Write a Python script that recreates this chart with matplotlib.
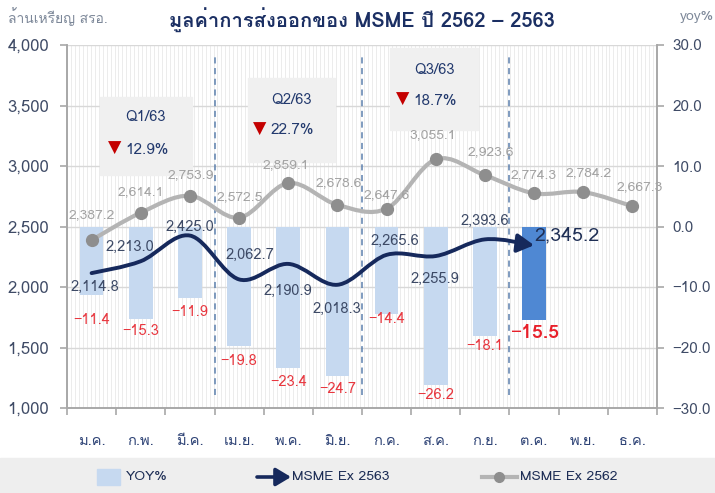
import numpy as np
import matplotlib
matplotlib.use("Agg")
import matplotlib.pyplot as plt
from matplotlib import font_manager
from matplotlib.path import Path
from matplotlib.patches import PathPatch, FancyArrowPatch, Rectangle
from matplotlib.ft2font import FT2Font

# ---------------- data ----------------
months = ["ม.ค.", "ก.พ.", "มี.ค.", "เม.ย.", "พ.ค.", "มิ.ย.",
          "ก.ค.", "ส.ค.", "ก.ย.", "ต.ค.", "พ.ย.", "ธ.ค."]
yoy = [-11.4, -15.3, -11.9, -19.8, -23.4, -24.7, -14.4, -26.2, -18.1, -15.5]
msme_2563 = [2114.8, 2213.0, 2425.0, 2062.7, 2190.9, 2018.3, 2265.6, 2255.9, 2393.6, 2345.2]
msme_2562 = [2387.2, 2614.1, 2753.9, 2572.5, 2859.1, 2678.6, 2647.6, 3055.1, 2923.6,
             2774.3, 2784.2, 2667.3]
quarters = ["Q1/63", "Q2/63", "Q3/63"]
quarter_change = [12.9, 22.7, 18.7]

# ---------------- fonts ----------------
def find_thai_font():
    seen = set()
    for f in font_manager.fontManager.ttflist:
        if f.name in seen:
            continue
        try:
            cm = FT2Font(f.fname).get_charmap()
            if 0x0E01 in cm and 0x0E21 in cm:
                return f.name
        except Exception:
            pass
        seen.add(f.name)
    return None

thai = find_thai_font()
fams = ([thai] if thai else []) + ["Noto Sans", "DejaVu Sans"]
plt.rcParams["font.family"] = fams

NAVY = "#16295c"
GRAY_LINE = "#b4b4b4"
GRAY_DOT = "#8e8e8e"
LBL_GRAY = "#a3a3a3"
LBL_NAVY = "#3d4a66"
RED = "#e8373f"
BAR = "#c6d9f0"
BAR_HI = "#4f88d3"
TICK_COL = "#3f4b66"

fig = plt.figure(figsize=(7.15, 4.93), dpi=100)
W, H = 715, 493
L, R, T, B = 67, 657, 45, 408
rect = [L / W, 1 - B / H, (R - L) / W, (B - T) / H]

ax = fig.add_axes(rect)          # bars, right axis
ax2 = ax.twinx()                 # lines, left axis
ax.yaxis.tick_right()
ax2.yaxis.tick_left()
ax2.yaxis.set_label_position("left")

x_all = np.arange(len(months))
ax.set_xlim(-0.5, len(months) - 0.5)
ax.set_ylim(-30, 30)
ax2.set_ylim(1000, 4000)

# background vertical stripes
ax.vlines(np.linspace(-0.5, 11.5, 150), 0, 1, transform=ax.get_xaxis_transform(),
          color="#ececec", lw=0.7, zorder=0)
# horizontal grid (behind the bars)
for v in np.arange(-30, 31, 10):
    ax.axhline(v, color="#d8d8d8", lw=1.0, zorder=0.5)

# bars
bar_colors = [BAR] * (len(yoy) - 1) + [BAR_HI]
xb = x_all[:len(yoy)]
ax.bar(xb, yoy, width=0.48, color=bar_colors, zorder=1)
bar_dy = [-25, -12, -14, -15, -14, -13, -5, -10, -10, -13]
for i, (xx, v) in enumerate(zip(xb, yoy)):
    last = i == len(yoy) - 1
    ax.annotate(f"−{abs(v):.1f}", (xx, v), xytext=(0, bar_dy[i] * 0.72),
                textcoords="offset points", ha="center", va="center",
                color=RED if not last else "#e8202a",
                fontsize=14 if last else 10.5, fontweight="bold" if last else "normal",
                zorder=6)

# smooth path helper (Excel-like cubic Bezier)
def smooth_path(xs, ys):
    pts = np.column_stack([xs, ys]).astype(float)
    n = len(pts)
    verts = [pts[0]]
    codes = [Path.MOVETO]
    for i in range(n - 1):
        p0 = pts[i - 1] if i > 0 else pts[i]
        p1 = pts[i]
        p2 = pts[i + 1]
        p3 = pts[i + 2] if i + 2 < n else pts[i + 1]
        c1 = p1 + (p2 - p0) / 6.0
        c2 = p2 - (p3 - p1) / 6.0
        verts += [c1, c2, p2]
        codes += [Path.CURVE4] * 3
    return Path(np.array(verts), codes)

# 2562 gray line
p62 = smooth_path(x_all, msme_2562)
ax2.add_patch(PathPatch(p62, fill=False, ec=GRAY_LINE, lw=3, zorder=3,
                        capstyle="round", joinstyle="round"))
ax2.plot(x_all, msme_2562, "o", color=GRAY_DOT, ms=8.5, zorder=4)
dx62 = [0, 0, 1, 1, -2, 1, 0, -3, 6, 0, 5, 7]
dy62 = [25, 21, 21, 21, 18, 22, 14, 24, 23, 18, 19, 19]
for i, (xx, v) in enumerate(zip(x_all, msme_2562)):
    ax2.annotate(f"{v:,.1f}", (xx, v), xytext=(dx62[i] * 0.72, dy62[i] * 0.72),
                 textcoords="offset points", ha="center", va="center",
                 color=LBL_GRAY, fontsize=10, zorder=5)

# 2563 navy line with arrow
x63 = x_all[:len(msme_2563)]
p63 = smooth_path(x63, msme_2563)
arr = FancyArrowPatch(path=p63, arrowstyle="-|>,head_length=0.5,head_width=0.28",
                      mutation_scale=20, lw=2.8, color=NAVY, shrinkA=0, shrinkB=0,
                      zorder=5, capstyle="round", joinstyle="round")
ax2.add_patch(arr)
dx63 = [3, -11, 0, 11, -1, -1, 8, -1, 0, 33]
dy63 = [-14, 14, 9, 25, -27, -24, 14, -23, 19, 10]
for i, (xx, v) in enumerate(zip(x63, msme_2563)):
    last = i == len(msme_2563) - 1
    ax2.annotate(f"{v:,.1f}", (xx, v), xytext=(dx63[i] * 0.72, dy63[i] * 0.72),
                 textcoords="offset points", ha="center", va="center",
                 color="#1f2f55" if last else LBL_NAVY,
                 fontsize=14 if last else 10.5, zorder=6)

# dashed quarter separators
for xs in (2.5, 5.5, 8.5):
    ax2.plot([xs, xs], [1107, 3917], ls=(0, (4, 3)), color="#5c80ad", lw=1.1, zorder=2)

# quarter boxes
boxes = [(0.17, 2926, 2.04, 3570), (3.18, 3033, 4.95, 3727), (6.07, 3297, 7.86, 3975)]
qtext_y = [(3405, 3135), (3545, 3295), (3793, 3540)]
for (x0, y0, x1, y1), (ty1, ty2), q, c in zip(boxes, qtext_y, quarters, quarter_change):
    ax2.add_patch(Rectangle((x0, y0), x1 - x0, y1 - y0, color="#f0f0f0", zorder=2.5))
    xc = (x0 + x1) / 2
    ax2.text(xc, ty1, q, ha="center", va="center", color="#233a6e", fontsize=10.5, zorder=6)
    ax2.text(xc - 0.42, ty2, f"{c}%", ha="left", va="center", color="#233a6e",
             fontsize=11, zorder=6)
    ax2.text(xc - 0.64, ty2 + 15, "▼", ha="center", va="center", color="#c40000",
             fontsize=12.5, family="DejaVu Sans", zorder=6)

# axes styling
for a in (ax, ax2):
    a.spines["top"].set_visible(False)
    for s in ("left", "right", "bottom"):
        a.spines[s].set_color("#a8a8a8")
        a.spines[s].set_linewidth(1.2)
ax.set_xticks(x_all)
ax.set_xticklabels(months, color="#2d4275", fontsize=10.5)
ax.set_xticks(np.arange(-0.5, len(months), 1), minor=True)
ax.tick_params(axis="x", which="major", length=0, pad=19)
ax.tick_params(axis="x", which="minor", length=5, color="#a8a8a8", width=1.2)

ax.set_yticks(np.arange(-30, 31, 10))
ax.set_yticklabels([f"{v:.1f}".replace("-", "−") for v in np.arange(-30, 31, 10)])
ax.tick_params(axis="y", length=5, color="#a8a8a8", width=1.2, pad=6,
               labelcolor=TICK_COL, labelsize=11)
ax2.set_yticks(np.arange(1000, 4001, 500))
ax2.set_yticklabels([f"{v:,}" for v in range(1000, 4001, 500)])
ax2.tick_params(axis="y", length=5, color="#a8a8a8", width=1.2, pad=8,
                labelcolor=TICK_COL, labelsize=12)
ax2.set_xlim(-0.5, len(months) - 0.5)
ax2.patch.set_visible(False)

# titles / axis captions
fig.text(362 / W, 1 - 20 / H, "มูลค่าการส่งออกของ MSME ปี 2562 – 2563", ha="center",
         va="center", fontsize=14.5, fontweight="bold", color="#1b2f63")
fig.text(8 / W, 1 - 17 / H, "ล้านเหรียญ สรอ.", ha="left", va="center", fontsize=10,
         color="#7d8899")
fig.text(680 / W, 1 - 17 / H, "yoy%", ha="left", va="center", fontsize=10,
         color="#7d8899")

# legend band
fig.add_artist(Rectangle((0, 0), 1, (H - 458) / H, transform=fig.transFigure,
                         color="#eeeeee", zorder=0))
ly = 1 - 477 / H
fig.add_artist(Rectangle((97 / W, 1 - 485 / H), 23 / W, 16 / H, transform=fig.transFigure,
                         color=BAR))
fig.text(126 / W, ly, "YOY%", ha="left", va="center", fontsize=10, color="#1d2d55")
fig.add_artist(FancyArrowPatch((257 / W, ly), (291 / W, ly), transform=fig.transFigure,
                               arrowstyle="-|>,head_length=0.5,head_width=0.3",
                               mutation_scale=18, lw=2.6, color=NAVY, shrinkA=0, shrinkB=0))
fig.text(292 / W, ly, "MSME Ex 2563", ha="left", va="center", fontsize=10, color="#1d2d55")
fig.add_artist(plt.Line2D([482 / W, 517 / W], [ly, ly], transform=fig.transFigure,
                          color=GRAY_LINE, lw=3))
fig.add_artist(plt.Line2D([499 / W], [ly], transform=fig.transFigure, marker="o",
                          color=GRAY_DOT, ms=7))
fig.text(520 / W, ly, "MSME Ex 2562", ha="left", va="center", fontsize=10, color="#1d2d55")

fig.savefig("out.png", dpi=100)
